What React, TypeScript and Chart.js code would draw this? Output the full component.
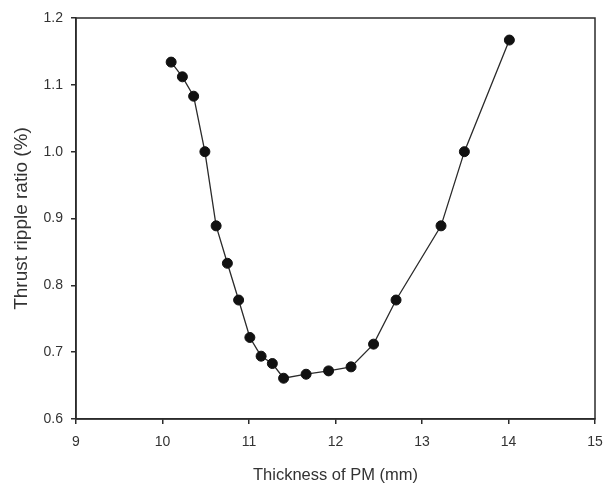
import React, { useEffect, useRef } from "react";
import { Chart, registerables } from "chart.js";

Chart.register(...registerables);

const thickness = [10.1, 10.23, 10.36, 10.49, 10.62, 10.75, 10.88, 11.01, 11.14, 11.27, 11.4, 11.66, 11.92, 12.18, 12.44, 12.7, 13.22, 13.49, 14.01];
const ripple = [1.134, 1.112, 1.083, 1.0, 0.889, 0.833, 0.778, 0.722, 0.694, 0.683, 0.661, 0.667, 0.672, 0.678, 0.712, 0.778, 0.889, 1.0, 1.167];
const xTicks = [9, 10, 11, 12, 13, 14, 15];
const yTicks = [0.6, 0.7, 0.8, 0.9, 1.0, 1.1, 1.2];

const frame = {
  id: "frame",
  afterDraw(chart: any) {
    const { ctx, chartArea: a } = chart;
    ctx.save();
    ctx.strokeStyle = "#2b2b2b";
    ctx.lineWidth = 1.5;
    ctx.strokeRect(a.left, a.top, a.right - a.left, a.bottom - a.top);
    ctx.restore();
  },
};

export default function App() {
  const ref = useRef<HTMLCanvasElement | null>(null);
  useEffect(() => {
    if (!ref.current) return;
    const chart = new Chart(ref.current, {
      type: "scatter",
      data: {
        datasets: [
          {
            data: thickness.map((x, i) => ({ x, y: ripple[i] })),
            showLine: true,
            borderColor: "#2a2a2a",
            borderWidth: 1.3,
            pointRadius: 5,
            pointBackgroundColor: "#111",
            pointBorderColor: "#111",
            pointBorderWidth: 1,
          },
        ],
      },
      plugins: [frame],
      options: {
        responsive: false,
        animation: false,
        layout: { padding: { left: 0, right: 18, top: 18, bottom: 0 } },
        plugins: { legend: { display: false }, tooltip: { enabled: false } },
        scales: {
          x: {
            type: "linear",
            min: 9,
            max: 15,
            afterBuildTicks: (s: any) => { s.ticks = xTicks.map((v) => ({ value: v })); },
            afterFit: (s: any) => { s.height = 67; },
            grid: { drawOnChartArea: false, drawTicks: true, tickLength: 5, color: "#2b2b2b", lineWidth: 1.5 },
            border: { display: true, color: "#2b2b2b", width: 1.5 },
            ticks: { padding: 10, color: "#333", font: { family: "Liberation Sans, Arial", size: 14 } },
            title: {
              display: true,
              text: "Thickness of PM (mm)",
              color: "#333",
              font: { family: "Liberation Sans, Arial", size: 16.5 },
              padding: { top: 0, bottom: 1 },
            },
          },
          y: {
            min: 0.6,
            max: 1.2,
            afterBuildTicks: (s: any) => { s.ticks = yTicks.map((v) => ({ value: v })); },
            afterFit: (s: any) => { s.width = 76; },
            grid: { drawOnChartArea: false, drawTicks: true, tickLength: 5, color: "#2b2b2b", lineWidth: 1.5 },
            border: { display: true, color: "#2b2b2b", width: 1.5 },
            ticks: {
              padding: 8,
              color: "#333",
              font: { family: "Liberation Sans, Arial", size: 14 },
              callback: (v: any) => Number(v).toFixed(1),
            },
            title: {
              display: true,
              text: "Thrust ripple ratio (%)",
              color: "#333",
              font: { family: "Liberation Sans, Arial", size: 19 },
              padding: { top: 10, bottom: 0 },
            },
          },
        },
      },
    } as any);
    return () => chart.destroy();
  }, []);
  return (
    <div style={{ position: "absolute", left: 0, top: 0, width: 613, height: 486, background: "#fff" }}>
      <canvas ref={ref} width={613} height={486} />
    </div>
  );
}
